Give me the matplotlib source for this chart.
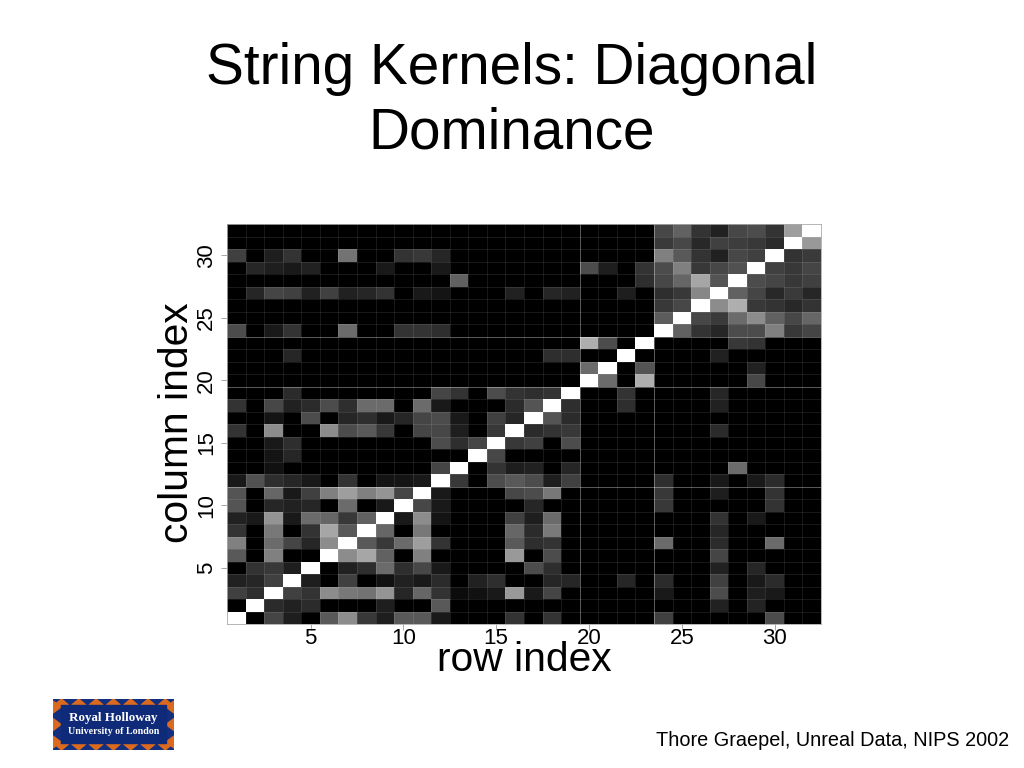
import matplotlib
matplotlib.use("Agg")
import matplotlib.pyplot as plt
from matplotlib.patches import Polygon, Rectangle
import numpy as np

plt.rcParams['font.family'] = ['Liberation Sans', 'DejaVu Sans']

# grey level in percent, rows listed from the top of the picture (row 32) down to row 1
gray_top = [
    [0,0,0,0,0,0,0,0,0,0,0,0,0,0,0,0, 0,0,0,0,0,0,0,28,38,20,13,28,30,20,62,100],
    [0,0,0,0,0,0,0,0,0,0,0,0,0,0,0,0, 0,0,0,0,0,0,0,23,28,16,25,24,22,17,100,60],
    [25,0,12,20,0,0,45,0,0,20,22,15,0,0,0,0, 0,0,0,0,0,0,0,50,35,20,13,28,25,100,20,23],
    [0,15,12,10,13,0,0,0,10,0,0,10,0,0,0,0, 0,0,0,30,12,0,20,30,50,22,28,32,100,25,22,27],
    [0,0,0,0,0,0,0,0,0,0,0,0,38,0,0,0, 0,0,0,0,0,0,18,28,40,65,33,100,30,27,22,25],
    [0,15,27,25,13,25,13,15,20,0,10,8,0,0,0,13, 0,15,13,0,0,12,0,18,22,53,100,38,27,16,23,15],
    [0,0,0,0,0,0,0,0,0,0,0,0,0,0,0,0, 0,0,0,0,0,0,0,22,28,100,55,68,22,20,16,20],
    [0,0,0,0,0,0,0,0,0,0,0,0,0,0,0,0, 0,0,0,0,0,0,0,36,100,28,23,42,55,38,28,40],
    [30,0,10,20,0,0,42,0,0,20,20,18,0,0,0,0, 0,0,0,0,0,0,0,100,38,20,15,30,30,50,22,27],
    [0,0,0,0,0,0,0,0,0,0,0,0,0,0,0,0, 0,0,0,68,30,0,100,0,0,0,0,22,20,0,0,0],
    [0,0,0,15,0,0,0,0,0,0,0,0,0,0,0,0, 0,18,18,0,0,100,0,0,0,0,13,0,0,0,0,0],
    [0,0,0,0,0,0,0,0,0,0,0,0,0,0,0,0, 0,0,0,42,100,0,33,0,0,0,0,0,13,0,0,0],
    [0,0,0,0,0,0,0,0,0,0,0,0,0,0,0,0, 0,0,0,100,42,0,68,0,0,0,0,0,28,0,0,0],
    [0,0,0,17,0,0,0,0,0,0,0,27,20,0,30,20, 18,20,100,0,0,20,0,0,0,0,15,0,0,0,0,0],
    [20,0,28,13,17,30,18,42,42,0,42,10,0,0,0,17, 33,100,18,0,0,18,0,0,0,0,13,0,0,0,0,0],
    [0,0,8,0,30,0,15,18,10,15,27,30,10,0,25,15, 100,33,17,0,0,0,0,0,0,0,0,0,0,0,0,0],
]
gray_bottom = [
    [20,0,55,0,0,55,30,35,22,0,27,28,12,0,22,100, 17,20,22,0,0,0,0,0,0,0,17,0,0,0,0,0],
    [0,0,10,18,0,0,0,0,0,0,0,30,18,27,100,22, 25,0,30,0,0,0,0,0,0,0,0,0,0,0,0,0],
    [0,0,8,15,0,0,0,0,0,0,0,0,0,100,28,0, 0,0,0,0,0,0,0,0,0,0,0,0,0,0,0,0],
    [0,0,7,0,0,0,0,0,0,0,0,27,100,0,20,12, 13,0,15,0,0,0,0,0,0,0,0,42,0,0,0,0],
    [10,32,18,15,10,0,20,0,8,8,10,100,22,0,30,35, 30,12,25,0,0,0,0,18,0,0,10,0,10,17,0,0],
    [33,0,40,10,25,50,62,50,58,27,100,10,0,0,0,28, 30,47,0,0,0,0,0,22,0,0,12,0,0,20,0,0],
    [33,0,15,13,15,0,42,0,10,100,28,10,0,0,0,0, 15,0,0,0,0,0,0,22,0,0,0,0,0,20,0,0],
    [13,10,58,10,42,40,22,38,100,10,55,8,0,0,0,25, 12,42,0,0,0,0,0,0,0,0,20,0,10,0,0,0],
    [20,0,47,0,20,65,35,100,40,0,47,0,0,0,0,40, 17,48,0,0,0,0,0,0,0,0,15,0,0,0,0,0],
    [50,0,42,27,15,55,100,35,22,42,62,20,0,0,0,35, 18,20,0,0,0,0,0,42,0,0,17,0,0,42,0,0],
    [35,0,50,0,0,100,55,65,38,0,50,0,0,0,0,60, 0,30,0,0,0,0,0,0,0,0,27,0,0,0,0,0],
    [0,20,22,12,100,0,13,18,42,18,28,10,0,0,0,0, 30,18,0,0,0,0,0,0,0,0,13,0,15,0,0,0],
    [13,15,25,100,12,0,25,0,7,13,10,17,0,13,18,0, 0,15,15,0,0,15,0,17,0,0,25,0,10,17,0,0],
    [25,18,100,25,20,55,47,45,58,15,40,20,5,7,10,60, 10,27,0,0,0,0,0,10,0,0,30,0,12,10,0,0],
    [0,100,17,13,17,0,0,0,12,0,0,35,0,0,0,0, 0,0,0,0,0,0,0,0,0,0,13,0,14,0,0,0],
    [100,0,27,12,0,35,55,22,12,35,35,10,0,0,0,20, 0,20,0,0,0,0,0,25,0,0,0,0,0,30,0,0],
]
tick_values = [5, 10, 15, 20, 25, 30]
strong_x = [19.5, 23.5]
strong_y = [11.5, 19.5, 23.5]

title = "String Kernels: Diagonal\nDominance"
footer = "Thore Graepel, Unreal Data, NIPS 2002"

W, H = 1024, 768
fig = plt.figure(figsize=(W / 100, H / 100), dpi=100, facecolor='white')
ax = fig.add_axes([227 / W, 1 - 624 / H, 594 / W, 400 / H])

matrix = np.array(gray_top + gray_bottom)[::-1] / 100
edges = np.arange(0.5, 33)
ax.pcolormesh(edges, edges, matrix, cmap='gray', vmin=0, vmax=1)

# faint cell lines, a few of them brighter
for e in edges[1:-1]:
    ax.axvline(e, color='#ffffff', lw=0.5, alpha=0.5 if e in strong_x else 0.14)
    ax.axhline(e, color='#ffffff', lw=0.5, alpha=0.5 if e in strong_y else 0.14)

ax.set_xlim(0.5, 32.5)
ax.set_ylim(0.5, 32.5)
ax.set_xticks(tick_values)
ax.set_yticks(tick_values)
ax.tick_params(length=4, width=0.6, color='#999999', labelsize=16)
ax.tick_params(axis='x', pad=-1)
ax.tick_params(axis='y', pad=3)
plt.setp(ax.get_yticklabels(), rotation=90, va='center')
for s in ax.spines.values():
    s.set_color('#aaaaaa')
    s.set_linewidth(0.6)

fig.text(512 / W, 1 - 101 / H, title, ha='center', va='center', fontsize=40.9, linespacing=1.25)
fig.text(524 / W, 1 - 660 / H, "row index", ha='center', va='center', fontsize=29.3)
fig.text(177 / W, 1 - 423 / H, "column index", ha='center', va='center', rotation=90, fontsize=29.3)
fig.text(1009 / W, 1 - 741 / H, footer, ha='right', va='center', fontsize=14.3)

# Royal Holloway logo
logo = fig.add_axes([53 / W, 1 - 750 / H, 121 / W, 51 / H])
logo.set_xlim(0, 121)
logo.set_ylim(51, 0)
logo.axis('off')
navy = '#12307f'
orange = '#dc6a1e'
logo.add_patch(Rectangle((0, 0), 121, 51, color=navy))
for i in range(7):
    cx = 8.5 + i * 17.3
    logo.add_patch(Polygon([[cx - 7, 6], [cx, 0], [cx + 7, 6]], color=orange))
    logo.add_patch(Polygon([[cx - 7, 45], [cx, 51], [cx + 7, 45]], color=orange))
for i in range(3):
    cy = 8 + i * 17.5
    logo.add_patch(Polygon([[0, cy - 6], [8, cy], [0, cy + 6]], color=orange))
    logo.add_patch(Polygon([[121, cy - 6], [113, cy], [121, cy + 6]], color=orange))
logo.add_patch(Rectangle((8, 6), 105, 38, color='#0f2a78'))
logo.text(60.5, 19, "Royal Holloway", color='white', ha='center', va='center',
          fontsize=9.4, fontweight='bold', family='Liberation Serif')
logo.text(60.5, 32, "University of London", color='white', ha='center', va='center',
          fontsize=7.2, fontweight='bold', family='Liberation Serif')

fig.savefig("out.png", dpi=100)
